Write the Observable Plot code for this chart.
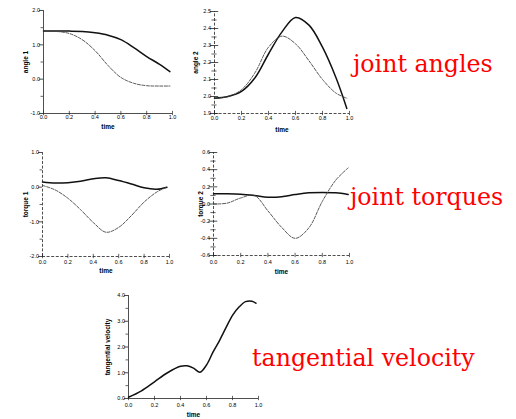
<!DOCTYPE html>
<html><head><meta charset="utf-8">
<script src="https://cdn.jsdelivr.net/npm/d3@7"></script>
<script src="https://cdn.jsdelivr.net/npm/@observablehq/plot@0.6"></script>
<style>
html,body{margin:0;padding:0;background:#fff;}
#fig{position:relative;width:516px;height:419px;overflow:hidden;background:#fff;}
.panel{position:absolute;}
</style></head><body><div id="fig"></div>
<script>
// ---- data ----
const time = [0, 0.1, 0.2, 0.3, 0.4, 0.5, 0.6, 0.7, 0.8, 0.9, 0.98];
const angle1Solid  = [1.40, 1.40, 1.40, 1.39, 1.35, 1.28, 1.15, 0.92, 0.66, 0.43, 0.22];
const angle1Dashed = [1.40, 1.39, 1.33, 1.15, 0.83, 0.40, 0.05, -0.12, -0.19, -0.20, -0.20];
const angle2Solid  = [1.99, 2.00, 2.03, 2.11, 2.25, 2.38, 2.465, 2.42, 2.29, 2.11, 1.93];
const angle2Dashed = [1.99, 2.00, 2.04, 2.14, 2.29, 2.355, 2.31, 2.21, 2.10, 2.02, 1.99];
const torque1Solid  = [0.15, 0.12, 0.13, 0.17, 0.24, 0.27, 0.19, 0.09, -0.02, -0.06, 0.00];
const torque1Dashed = [0.05, -0.08, -0.32, -0.65, -1.02, -1.30, -1.16, -0.82, -0.43, -0.14, 0.00];
const time4 = [0, 0.1, 0.2, 0.3, 0.4, 0.5, 0.6, 0.7, 0.8, 0.9, 0.99];
const torque2Solid  = [0.12, 0.12, 0.115, 0.10, 0.08, 0.085, 0.11, 0.13, 0.135, 0.13, 0.11];
const torque2Dashed = [0.00, 0.01, 0.07, 0.10, -0.08, -0.27, -0.40, -0.28, 0.03, 0.28, 0.42];
const time5 = [0, 0.1, 0.2, 0.3, 0.4, 0.45, 0.5, 0.55, 0.6, 0.65, 0.7, 0.75, 0.8, 0.85, 0.9, 0.95, 0.98];
const velocity = [0.05, 0.3, 0.65, 1.0, 1.25, 1.27, 1.18, 1.02, 1.3, 1.8, 2.25, 2.75, 3.23, 3.55, 3.76, 3.78, 3.70];

const xTicks = [0, 0.2, 0.4, 0.6, 0.8, 1.0];
const labels = ["joint angles", "joint torques", "tangential velocity"];

function makePanel(p) {
  const [x0, x1] = p.xDomain, [y0, y1] = p.yDomain;
  const kx = (x1 - x0) * 0.012, ky = (y1 - y0) * 0.016;
  const dash = p.dashed ? "3,1.6" : null;
  const fmt = d => d.toFixed(1);
  const marks = [
    Plot.ruleX([x0], {y1: y0, y2: y1, stroke: "#222", strokeWidth: 0.8, strokeDasharray: dash}),
    Plot.ruleY([y0], {x1: x0, x2: x1, stroke: "#222", strokeWidth: 0.8, strokeDasharray: dash}),
    Plot.ruleY(p.yMajor, {y: d => d, x1: x0 - kx * 2.6, x2: p.cross ? x0 + kx * 2.6 : x0, stroke: "#222", strokeWidth: 0.8}),
    Plot.ruleY(p.yMinor, {y: d => d, x1: x0 - kx * 1.6, x2: p.cross ? x0 + kx * 1.6 : x0, stroke: "#222", strokeWidth: 0.7}),
    Plot.ruleX(xTicks, {x: d => d, y1: y0 - ky * 1.3, y2: y0 + ky * 1.3, stroke: "#222", strokeWidth: 0.7}),
    Plot.axisY(p.yMajor, {anchor: "left", tickSize: 0, tickPadding: 3.5, tickFormat: fmt, label: null, fontSize: 5.5, fill: "black"}),
    Plot.axisX(xTicks, {anchor: "bottom", tickSize: 0, tickPadding: p.xPad, tickFormat: fmt, label: null, fontSize: 5.5, fill: "black"}),
    Plot.text([p.yLabel], {frameAnchor: "left", dx: -p.yLabelOffset, rotate: -90, textAnchor: "middle", lineAnchor: "middle", fontSize: 6.5, fontWeight: "bold", fill: "black"}),
    Plot.text(["time"], {frameAnchor: "bottom", dy: p.xLabelOffset, textAnchor: "middle", fontSize: 6.5, fontWeight: "bold", fill: "black"})
  ];
  for (const s of p.series) {
    const data = s.t.map((t, i) => ({t, v: s.v[i]}));
    marks.push(Plot.line(data, {x: "t", y: "v", curve: "catmull-rom",
      stroke: s.dashed ? "#444" : "#111",
      strokeWidth: s.dashed ? 0.9 : 1.5,
      strokeDasharray: s.dashed ? "3,1.5" : null}));
  }
  const el = Plot.plot({
    width: p.width, height: p.height,
    marginTop: p.m[0], marginRight: p.m[1], marginBottom: p.m[2], marginLeft: p.m[3],
    x: {domain: p.xDomain, axis: null},
    y: {domain: p.yDomain, axis: null},
    style: {fontFamily: "Liberation Sans, Arial, sans-serif", background: "transparent", overflow: "visible", color: "black"},
    marks
  });
  const wrap = document.createElement("div");
  wrap.className = "panel";
  wrap.style.left = p.left + "px";
  wrap.style.top = p.top + "px";
  wrap.appendChild(el);
  document.getElementById("fig").appendChild(wrap);
}

makePanel({left: 0, top: 0, width: 180, height: 140, m: [10, 8, 27, 43],
  xDomain: [0, 1], yDomain: [-1, 2], yMajor: [-1, 0, 1, 2], yMinor: [-0.5, 0.5, 1.5],
  cross: false, dashed: false, xPad: 2, yLabel: "angle 1", yLabelOffset: 18, xLabelOffset: 15,
  series: [{t: time, v: angle1Solid}, {t: time, v: angle1Dashed, dashed: true}]});

makePanel({left: 170, top: 0, width: 185, height: 140, m: [11, 6, 27, 44],
  xDomain: [0, 1], yDomain: [1.9, 2.5], yMajor: [1.9, 2.0, 2.1, 2.2, 2.3, 2.4, 2.5],
  yMinor: [1.95, 2.05, 2.15, 2.25, 2.35, 2.45],
  cross: true, dashed: true, xPad: 3, yLabel: "angle 2", yLabelOffset: 19, xLabelOffset: 18,
  series: [{t: time, v: angle2Solid}, {t: time, v: angle2Dashed, dashed: true}]});

makePanel({left: 0, top: 140, width: 180, height: 140, m: [12, 11, 24, 42],
  xDomain: [0, 1], yDomain: [-2, 1], yMajor: [-2, -1, 0, 1], yMinor: [-1.5, -0.5, 0.5],
  cross: false, dashed: true, xPad: 4, yLabel: "torque 1", yLabelOffset: 17, xLabelOffset: 16,
  series: [{t: time, v: torque1Solid}, {t: time, v: torque1Dashed, dashed: true}]});

makePanel({left: 170, top: 140, width: 185, height: 140, m: [12, 6, 25, 43],
  xDomain: [0, 1], yDomain: [-0.6, 0.6], yMajor: [-0.6, -0.4, -0.2, 0, 0.2, 0.4, 0.6],
  yMinor: [-0.5, -0.3, -0.1, 0.1, 0.3, 0.5],
  cross: true, dashed: true, xPad: 5, yLabel: "torque 2", yLabelOffset: 13, xLabelOffset: 18,
  series: [{t: time4, v: torque2Solid}, {t: time4, v: torque2Dashed, dashed: true}]});

makePanel({left: 85, top: 280, width: 185, height: 139, m: [15, 12, 21, 43],
  xDomain: [0, 1], yDomain: [0, 4], yMajor: [0, 1, 2, 3, 4], yMinor: [0.5, 1.5, 2.5, 3.5],
  cross: false, dashed: false, xPad: 5, yLabel: "tangential velocity", yLabelOffset: 21, xLabelOffset: 18,
  series: [{t: time5, v: velocity}]});

// red annotation labels
const svg = d3.select("#fig").append("svg")
  .attr("width", 516).attr("height", 419)
  .style("position", "absolute").style("left", 0).style("top", 0).style("pointer-events", "none");
const pos = [[353, 72], [350, 205], [252, 366]];
labels.forEach((txt, i) => {
  svg.append("text").attr("x", pos[i][0]).attr("y", pos[i][1])
    .attr("fill", "#ff0000").attr("font-family", "DejaVu Serif, serif").attr("font-size", 23.7)
    .text(txt);
});
</script></body></html>
